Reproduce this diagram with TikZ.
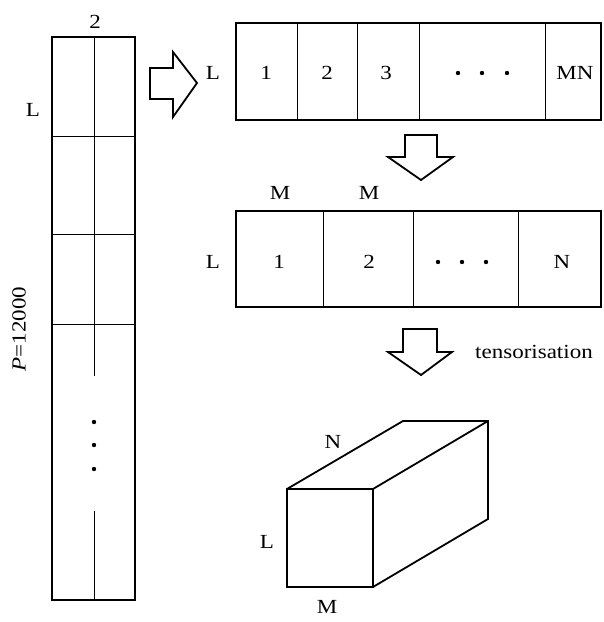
\documentclass[tikz,border=0pt]{standalone}
\usepackage{fontspec}
\setmainfont{Liberation Serif}[FakeStretch=1.15]
\begin{document}
\begin{tikzpicture}[x=1pt,y=-1pt,
  thick box/.style={draw,line width=1.8pt},
  thin line/.style={line width=1pt},
  lbl/.style={inner sep=0pt,font=\fontsize{20}{24}\selectfont},
  blockarrow/.style={draw,line width=1.8pt,fill=white,line join=miter}]
\useasboundingbox (0,0) rectangle (604,622);
% left column
\coordinate (c1) at (52,37);
\coordinate (c2) at (135,600);
\draw[thin line] (52,136) -- (135,136);
\draw[thin line] (52,234) -- (135,234);
\draw[thin line] (52,324) -- (135,324);
\draw[thin line] (94,37) -- (94,376);
\draw[thin line] (94,511) -- (94,600);
\draw[thick box] (c1) rectangle (c2);
\fill (94,422) circle (2.2);
\fill (94,445) circle (2.2);
\fill (94,469) circle (2.2);
\node[lbl] (two) at (95,22) {2};
\node[lbl] (lL) at (33,110) {L};
\node[lbl,rotate=90] (P) at (19,329) {\textit{P}=12000};
% right arrow
\draw[blockarrow] (150,68) -- (173,68) -- (173,52) -- (197,83) -- (173,117) -- (173,99) -- (150,99) -- cycle;
% top row
\draw[thin line] (297,23) -- (297,120);
\draw[thin line] (357,23) -- (357,120);
\draw[thin line] (419,23) -- (419,120);
\draw[thin line] (545,23) -- (545,120);
\draw[thick box] (236,23) rectangle (601,120);
\node[lbl] (rL) at (213,73) {L};
\node[lbl] (t1) at (266,73) {1};
\node[lbl] (t2) at (327,73) {2};
\node[lbl] (t3) at (386,73) {3};
\fill (458,73) circle (2.2);
\fill (482,73) circle (2.2);
\fill (507,73) circle (2.2);
\node[lbl] (tMN) at (575,73) {MN};
% down arrow 1
\draw[blockarrow] (405,135) -- (437,135) -- (437,157) -- (453,157) -- (421,180) -- (388,157) -- (405,157) -- cycle;
% second row
\draw[thin line] (323,211) -- (323,307);
\draw[thin line] (413,211) -- (413,307);
\draw[thin line] (518,211) -- (518,307);
\draw[thick box] (236,211) rectangle (601,307);
\node[lbl] (m1) at (280,193) {M};
\node[lbl] (m2) at (369,193) {M};
\node[lbl] (sL) at (213,262) {L};
\node[lbl] (s1) at (279,262) {1};
\node[lbl] (s2) at (369,262) {2};
\fill (438,262) circle (2.2);
\fill (462,262) circle (2.2);
\fill (486,262) circle (2.2);
\node[lbl] (sN) at (562,262) {N};
% down arrow 2
\draw[blockarrow] (403,329) -- (437,329) -- (437,352) -- (452,352) -- (421,375) -- (388,352) -- (403,352) -- cycle;
\node[lbl,anchor=west] (tens) at (475,352) {tensorisation};
% cuboid
\draw[line width=1.8pt,line join=miter] (287,489) -- (403,421) -- (488,421) -- (488,519) -- (373,587);
\draw[line width=1.8pt] (373,489) -- (488,421);
\draw[thick box] (287,489) rectangle (373,587);
\node[lbl] (cN) at (333,442) {N};
\node[lbl] (cL) at (267,542) {L};
\node[lbl] (cM) at (327,607) {M};
\end{tikzpicture}
\end{document}
